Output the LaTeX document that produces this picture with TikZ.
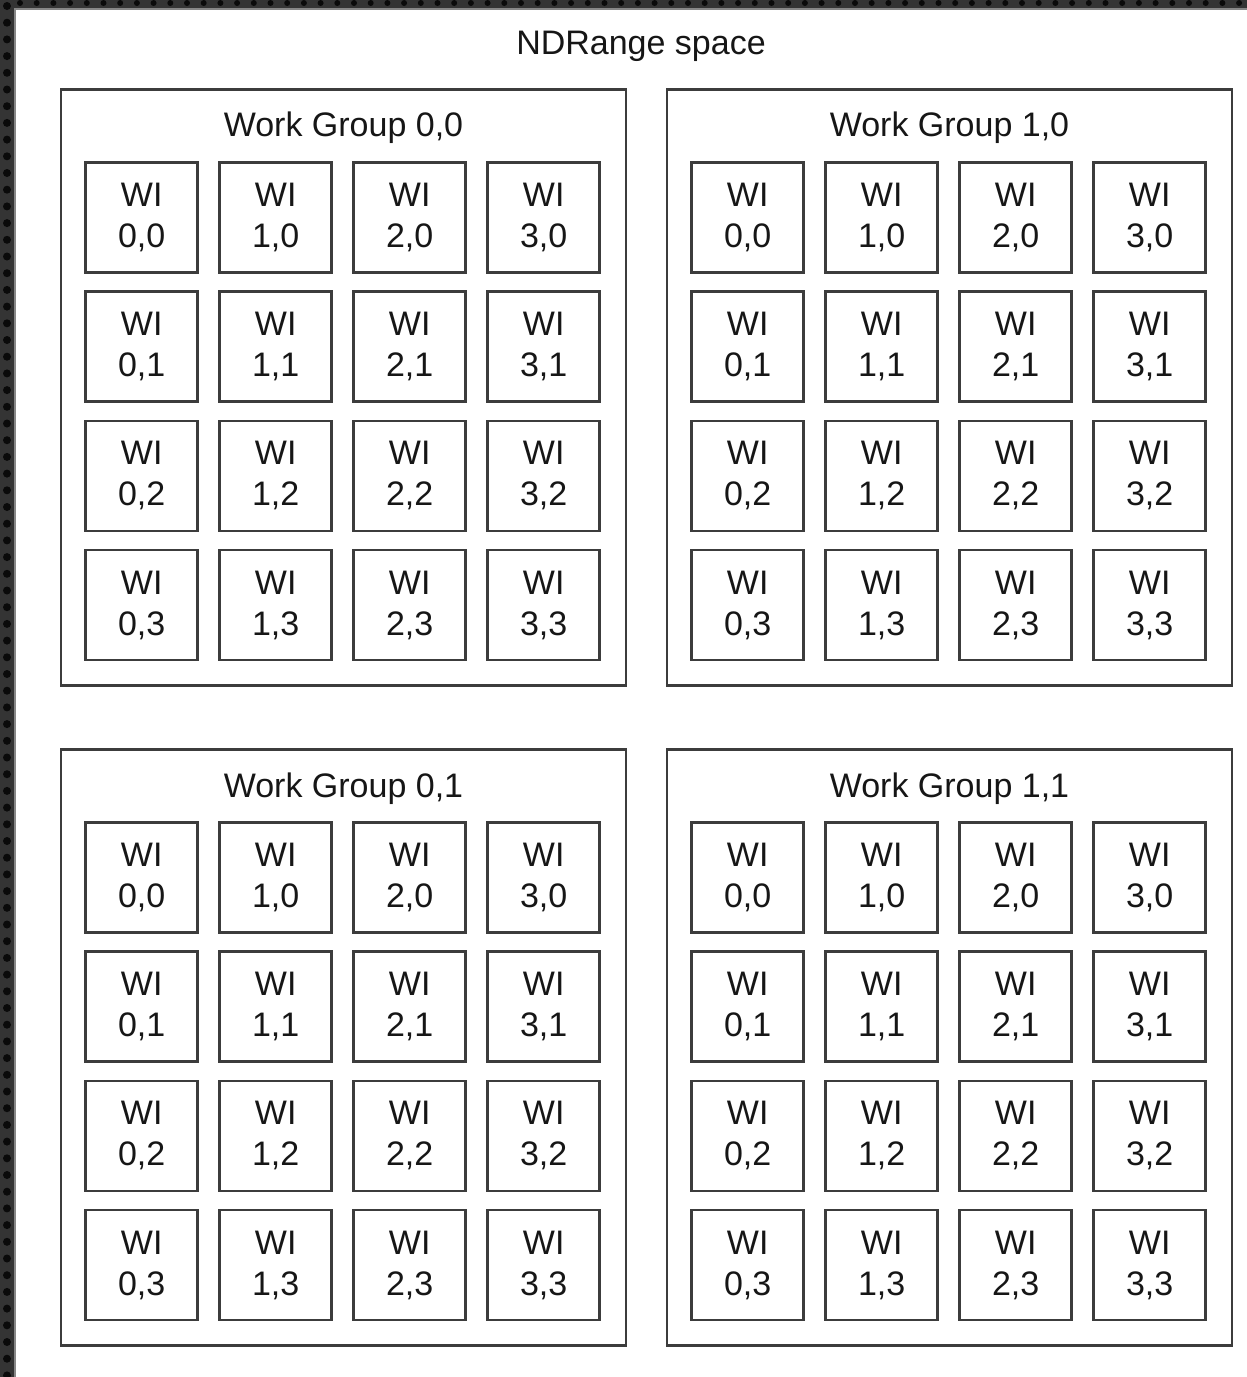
\documentclass[tikz,border=0pt]{standalone}
\usepackage{fontspec}
\setmainfont{Liberation Sans}
\usetikzlibrary{positioning}
\definecolor{linecolor}{RGB}{60, 60, 60}
\definecolor{textcolor}{RGB}{22, 22, 22}
\definecolor{stripcolor}{RGB}{52, 52, 52}
\definecolor{holecolor}{RGB}{10, 10, 10}
\definecolor{edgecolor}{RGB}{135, 135, 135}
\tikzset{
labeltext/.style={
  font=\fontsize{17}{20.5}\selectfont,
  text=textcolor,
  align=center
},
wibox/.style={
  draw=linecolor,
  line width=1.3pt,
  minimum width=56pt,
  minimum height=55pt,
  inner sep=0pt,
  labeltext
},
groupbox/.style={
  draw=linecolor,
  line width=1.3pt,
  minimum width=282.5pt,
  minimum height=298pt,
  inner sep=0pt
},
grouptitle/.style={
  labeltext
}
}
\begin{document}
\begin{tikzpicture}[x=0.5pt, y=-0.5pt]
  \useasboundingbox (0,0) rectangle (1247,1377);
  % dark film edge and the white sheet
  \fill[stripcolor] (0,0) rectangle (1247,1377);
  \foreach \k in {0,...,82}
    \fill[holecolor] (7,{6+16.7*\k}) circle (4);
  \foreach \k in {0,...,74}
    \fill[holecolor] ({20+16.7*\k},3) circle (3);
  \fill[white] (14,8) rectangle (1247,1377);
  \draw[edgecolor, line width=1pt] (15,1377) -- (15,9) -- (1247,9);

  \node[labeltext] (ndtitle) at (641,46) {NDRange space};

  \foreach \gx in {0,1} {
    \foreach \gy in {0,1} {
      \node[groupbox] (wg-\gx-\gy) at ({343.5+606*\gx},{387.5+660*\gy}) {};
      \node[grouptitle] (wgt-\gx-\gy) at ([shift={(0,40)}]wg-\gx-\gy.north) {Work Group \gx,\gy};
      \foreach \i in {0,...,3} {
        \foreach \j in {0,...,3} {
          \node[wibox] (wi-\gx-\gy-\i-\j) at ([shift={({82+134*\i},{129+129.3*\j})}]wg-\gx-\gy.north west) {WI\\\i,\j};
        }
      }
    }
  }
\end{tikzpicture}
\end{document}
